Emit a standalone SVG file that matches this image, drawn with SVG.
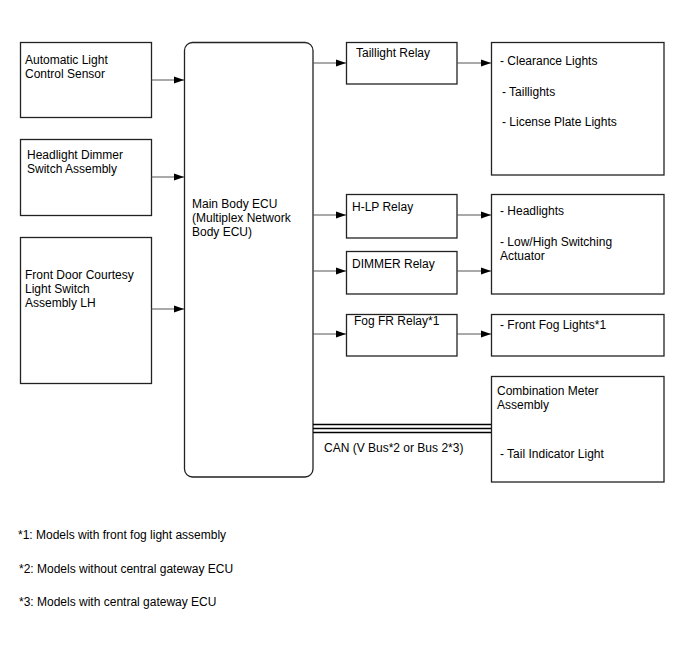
<svg xmlns="http://www.w3.org/2000/svg" width="688" height="658" viewBox="0 0 688 658">
<defs>
<marker id="ah" markerWidth="10" markerHeight="8" refX="10" refY="4" orient="auto" markerUnits="userSpaceOnUse">
<path d="M0,0.5 L10,4 L0,7.5 Z" fill="#000"/>
</marker>
</defs>
<style>
rect{fill:#fff;stroke:#222;stroke-width:1.3}
text{font-family:"Liberation Sans",Arial,sans-serif;font-size:12px;fill:#000}
.c line{stroke:#555;stroke-width:1;marker-end:url(#ah)}
.can line{stroke:#000;stroke-width:1.5}
</style>
<rect x="0" y="0" width="688" height="658" style="stroke:none"/>
<g id="n-auto"><rect x="20.5" y="42.5" width="131" height="75"/><text x="25" y="64">Automatic Light</text><text x="25" y="78">Control Sensor</text></g>
<g id="n-dimsw"><rect x="20.5" y="139.5" width="131" height="76"/><text x="27" y="159">Headlight Dimmer</text><text x="27" y="173">Switch Assembly</text></g>
<g id="n-door"><rect x="20.5" y="237.5" width="131" height="146"/><text x="25" y="279">Front Door Courtesy</text><text x="25" y="293">Light Switch</text><text x="25" y="307">Assembly LH</text></g>
<g id="n-ecu"><rect x="184.5" y="42.5" width="128.5" height="434.5" rx="8"/><text x="192" y="208">Main Body ECU</text><text x="192" y="222">(Multiplex Network</text><text x="192" y="236">Body ECU)</text></g>
<g id="n-tail"><rect x="346.5" y="42.5" width="110.5" height="41.5"/><text x="356" y="57">Taillight Relay</text></g>
<g id="n-clr"><rect x="491.5" y="42.5" width="172.5" height="132.5"/><text x="500" y="65">- Clearance Lights</text><text x="502" y="96">- Taillights</text><text x="502" y="126">- License Plate Lights</text></g>
<g id="n-hlp"><rect x="346.5" y="194.5" width="110.5" height="43.5"/><text x="352" y="211">H-LP Relay</text></g>
<g id="n-dimmer"><rect x="346.5" y="251.5" width="110.5" height="42.5"/><text x="352" y="268">DIMMER Relay</text></g>
<g id="n-head"><rect x="491.5" y="194.5" width="172.5" height="99.5"/><text x="500" y="215">- Headlights</text><text x="500" y="246">- Low/High Switching</text><text x="500" y="260">Actuator</text></g>
<g id="n-fogr"><rect x="346.5" y="314.5" width="110.5" height="41.5"/><text x="354" y="325">Fog FR Relay*1</text></g>
<g id="n-fogl"><rect x="491.5" y="314.5" width="172.5" height="41.5"/><text x="500" y="329">- Front Fog Lights*1</text></g>
<g id="n-meter"><rect x="491.5" y="376.5" width="172.5" height="105.5"/><text x="497" y="395">Combination Meter</text><text x="497" y="409">Assembly</text><text x="500" y="458">- Tail Indicator Light</text></g>
<g id="connectors">
<g class="c">
<line x1="151.5" y1="80" x2="184" y2="80"/>
<line x1="151.5" y1="177" x2="184" y2="177"/>
<line x1="151.5" y1="309" x2="184" y2="309"/>
<line x1="313" y1="63" x2="346" y2="63"/>
<line x1="457" y1="63" x2="491" y2="63"/>
<line x1="313" y1="215" x2="346" y2="215"/>
<line x1="457" y1="215" x2="491" y2="215"/>
<line x1="313" y1="271" x2="346" y2="271"/>
<line x1="457" y1="271" x2="491" y2="271"/>
<line x1="313" y1="334" x2="346" y2="334"/>
<line x1="457" y1="334" x2="491" y2="334"/>
</g>
<g class="can">
<line x1="313" y1="424.5" x2="491" y2="424.5"/>
<line x1="313" y1="428.5" x2="491" y2="428.5"/>
<line x1="313" y1="432.5" x2="491" y2="432.5"/>
</g>
<text x="324" y="452">CAN (V Bus*2 or Bus 2*3)</text>
</g>
<g id="notes">
<text x="18" y="539">*1: Models with front fog light assembly</text>
<text x="19" y="573">*2: Models without central gateway ECU</text>
<text x="19" y="606">*3: Models with central gateway ECU</text>
</g>
</svg>
